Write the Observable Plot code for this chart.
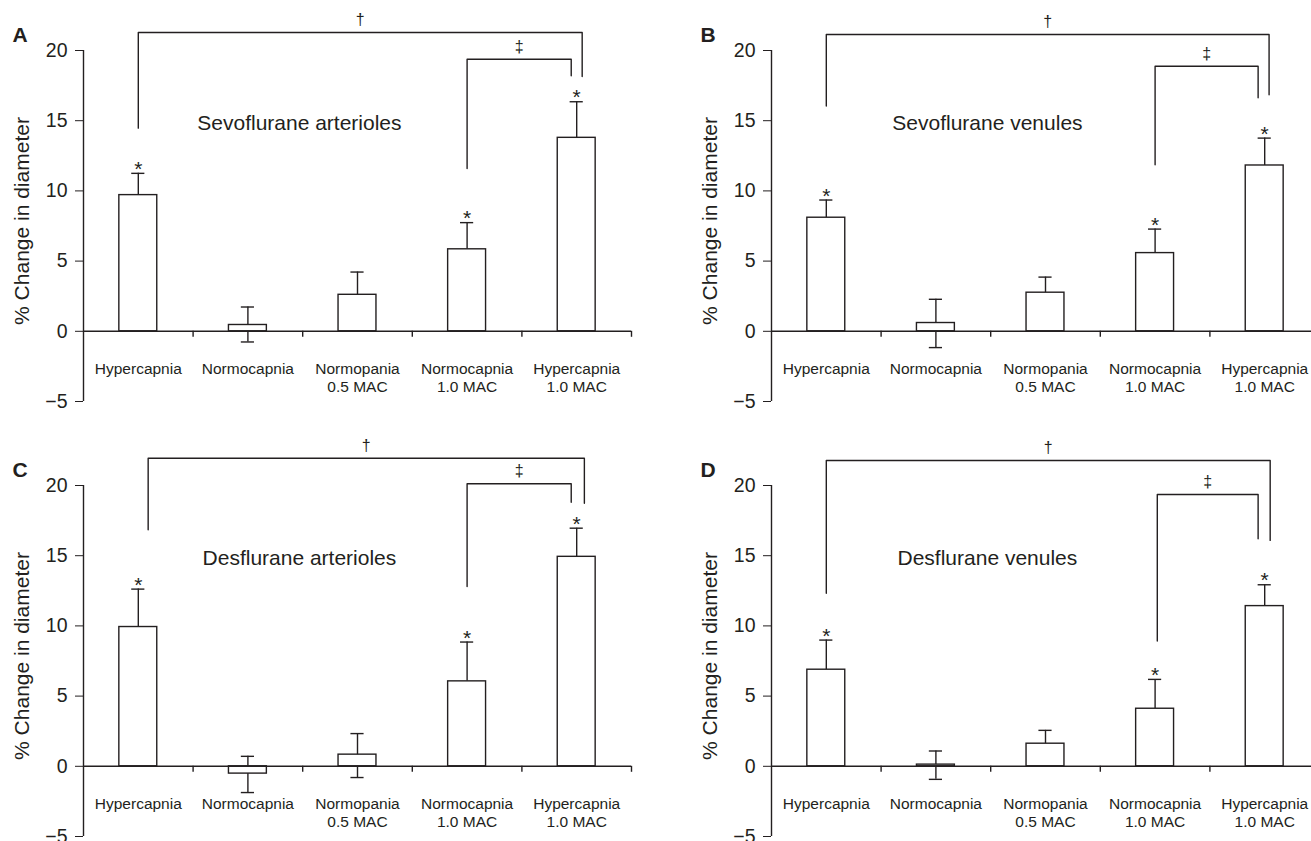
<!DOCTYPE html>
<html><head><meta charset="utf-8">
<script src="https://cdn.jsdelivr.net/npm/d3@7"></script>
<script src="https://cdn.jsdelivr.net/npm/@observablehq/plot@0.6"></script>
<style>
html,body{margin:0;padding:0;background:#fff;overflow:hidden;}
#page{position:relative;width:1311px;height:841px;overflow:hidden;background:#fff;}
.panel{position:absolute;width:655px;height:420px;}
.panel svg{max-width:none !important;}
</style></head><body><div id="page"></div>
<script>
// ---- data ----
const categories = ["Hypercapnia", "Normocapnia", "Normopania\n0.5 MAC", "Normocapnia\n1.0 MAC", "Hypercapnia\n1.0 MAC"];
const panelLetters = ["A", "B", "C", "D"];
const panelTitles = ["Sevoflurane arterioles", "Sevoflurane venules", "Desflurane arterioles", "Desflurane venules"];
const yTicks = [-5, 0, 5, 10, 15, 20];
const means = [
  [9.7, 0.45, 2.6, 5.84, 13.78],
  [8.09, 0.59, 2.75, 5.57, 11.81],
  [9.92, -0.52, 0.83, 6.05, 14.92],
  [6.88, 0.12, 1.61, 4.1, 11.41]
];
const errHigh = [
  [11.25, 1.73, 4.22, 7.74, 16.35],
  [9.35, 2.28, 3.86, 7.28, 13.76],
  [12.62, 0.71, 2.33, 8.85, 16.96],
  [8.99, 1.09, 2.56, 6.19, 12.93]
];
const errLow = [
  [null, -0.76, null, null, null],
  [null, -1.16, null, null, null],
  [null, -1.87, -0.8, null, null],
  [null, -0.93, null, null, null]
];
const significant = [true, false, false, true, true];
const bracketLabels = ["†", "‡"];
const bracketFrom = [[0, 3], [0, 3], [0.09, 3], [0, 3.02]];
const bracketTo = [[4.05, 3.95], [4.04, 3.94], [4.07, 3.95], [4.05, 3.94]];
const bracketTop = [[21.28, 19.38], [21.14, 18.88], [21.94, 20.12], [21.78, 19.36]];
const bracketLeftEnd = [[14.47, 11.6], [16.04, 11.86], [16.85, 12.81], [12.33, 8.92]];
const bracketRightEnd = [[18.15, 18.2], [16.85, 16.63], [18.74, 18.81], [16.09, 16.2]];

// ---- drawing ----
const ink = "#231f20";
const sw = 1.4;
const W = 655, H = 420, mL = 83, mR = 24, mT = 50, mB = 19;
const pxPerUnit = (H - mT - mB) / 25;

function panel(p) {
  const idx = d3.range(categories.length);
  const brackets = [];
  for (let b = 0; b < 2; b++) {
    const f = bracketFrom[p][b], t = bracketTo[p][b], top = bracketTop[p][b];
    brackets.push({b, x: f, y: bracketLeftEnd[p][b]}, {b, x: f, y: top}, {b, x: t, y: top}, {b, x: t, y: bracketRightEnd[p][b]});
  }
  const bracketText = [0, 1].map(b => ({x: (bracketFrom[p][b] + bracketTo[p][b]) / 2, y: bracketTop[p][b], label: bracketLabels[b]}));
  const boundaries = idx.map(i => i + 0.5);
  return Plot.plot({
    width: W, height: H, marginLeft: mL, marginRight: mR, marginTop: mT, marginBottom: mB,
    x: {domain: [-0.5, 4.5], axis: null},
    y: {domain: [-5, 20], ticks: yTicks, tickSize: 8, tickPadding: 8, label: null},
    style: {fontFamily: "'Liberation Sans', Arial, Helvetica, sans-serif", fontSize: "19.5px", color: ink, background: "transparent", overflow: "visible", maxWidth: "none"},
    marks: [
      Plot.ruleX([-0.5], {y1: -5, y2: 20, stroke: ink, strokeWidth: sw}),
      // whiskers
      Plot.ruleX(idx, {x: i => i, y1: i => errLow[p][i] ?? means[p][i], y2: i => errHigh[p][i], stroke: ink, strokeWidth: sw}),
      Plot.ruleY(idx, {y: i => errHigh[p][i], x1: i => i - 0.06, x2: i => i + 0.06, stroke: ink, strokeWidth: sw}),
      Plot.ruleY(idx.filter(i => errLow[p][i] != null), {y: i => errLow[p][i], x1: i => i - 0.06, x2: i => i + 0.06, stroke: ink, strokeWidth: sw}),
      // bars
      Plot.rect(idx, {x1: i => i - 0.173, x2: i => i + 0.173, y1: 0, y2: i => means[p][i], fill: "white", stroke: ink, strokeWidth: sw}),
      // x axis line + boundary ticks
      Plot.ruleY([0], {x1: -0.5, x2: 4.5, stroke: ink, strokeWidth: sw}),
      Plot.ruleX(boundaries, {x: d => d, y1: 0, y2: -6 / pxPerUnit, stroke: ink, strokeWidth: sw}),
      // category labels
      Plot.text(idx, {x: i => i, y: 0, text: i => categories[i], dy: 30.6, lineAnchor: "top", fontSize: 15.5, lineHeight: 1.13, fill: ink}),
      // asterisks
      Plot.text(idx.filter(i => significant[i]), {x: i => i, y: i => errHigh[p][i], text: () => "*", dy: -4, fontSize: 21, fill: ink}),
      // brackets
      Plot.line(brackets, {x: "x", y: "y", z: "b", stroke: ink, strokeWidth: sw}),
      Plot.text(bracketText, {x: "x", y: "y", text: "label", dy: -12.5, fontSize: 16, fill: ink}),
      // title
      Plot.text([panelTitles[p]], {x: 1.47, y: 14.85, text: d => d, fontSize: 21, fill: ink}),
      // y label
      Plot.text(["% Change in diameter"], {frameAnchor: "left", text: d => d, rotate: -90, dx: -61, dy: -5, textAnchor: "middle", lineAnchor: "middle", fontSize: 21, fill: ink}),
      // panel letter
      Plot.text([panelLetters[p]], {frameAnchor: "top-left", text: d => d, dx: -63.5, dy: -15.5, textAnchor: "middle", lineAnchor: "middle", fontSize: 21, fontWeight: "bold", fill: ink})
    ]
  });
}

const lefts = [0, 688, 0, 688];
const tops = [0, 0, 435, 435];
const page = document.getElementById("page");
for (let p = 0; p < 4; p++) {
  const div = document.createElement("div");
  div.className = "panel";
  div.style.left = lefts[p] + "px";
  div.style.top = tops[p] + "px";
  div.appendChild(panel(p));
  page.appendChild(div);
}
</script>
</body></html>
